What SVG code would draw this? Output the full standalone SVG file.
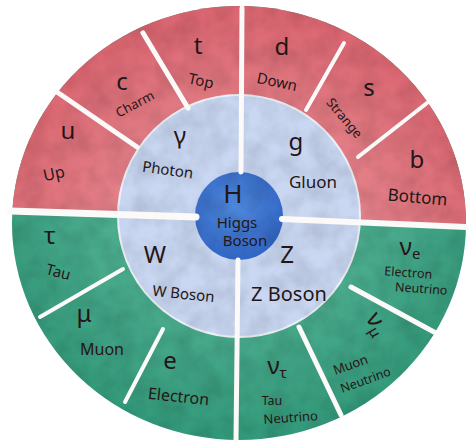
<svg xmlns="http://www.w3.org/2000/svg" width="468" height="445" viewBox="0 0 468 445">
<defs>
<style>
.t{font-family:"Noto Sans","DejaVu Sans",sans-serif;fill:#241616;text-anchor:middle}
.sym{font-size:24px}
.nm{font-size:15px}
.sm{font-size:12.5px}
.gap{stroke:#fbfaf8;stroke-linecap:round;fill:none}
</style>
<filter id="wc" x="0" y="0" width="100%" height="100%">
<feTurbulence type="fractalNoise" baseFrequency="0.045" numOctaves="3" seed="7" result="n"/>
<feColorMatrix in="n" type="matrix" values="0 0 0 0 0  0 0 0 0 0  0 0 0 0 0  0 0 0 0.4 -0.12" result="a"/>
<feComposite in="a" in2="SourceGraphic" operator="in" result="t"/>
<feMerge><feMergeNode in="SourceGraphic"/><feMergeNode in="t"/></feMerge>
</filter>
<clipPath id="topHalf"><polygon points="0,0 468,0 468,227 0,211"/></clipPath>
<radialGradient id="gRed" cx="0.5" cy="0.6" r="0.6">
<stop offset="0.5" stop-color="#e4828a"/><stop offset="1" stop-color="#da6570"/>
</radialGradient>
<radialGradient id="gGreen" cx="0.5" cy="0.4" r="0.6">
<stop offset="0.5" stop-color="#4dad8f"/><stop offset="1" stop-color="#34997a"/>
</radialGradient>
<radialGradient id="gBlue" cx="0.45" cy="0.4" r="0.6">
<stop offset="0" stop-color="#5089dd"/><stop offset="1" stop-color="#3468c6"/>
</radialGradient>
</defs>
<rect width="468" height="445" fill="#ffffff"/>
<g id="background" filter="url(#wc)">
<ellipse cx="239" cy="223" rx="227" ry="217" fill="url(#gGreen)"/>
<ellipse cx="239" cy="223" rx="227" ry="217" fill="url(#gRed)" clip-path="url(#topHalf)"/>
<circle cx="239" cy="216" r="121" fill="#c9d7f2" stroke="#eef1f8" stroke-width="2"/>
<circle cx="239" cy="216" r="44" fill="url(#gBlue)"/>
</g>
<g id="connectors">
<path class="gap" stroke-width="7" d="M10,211 L196,217"/>
<path class="gap" stroke-width="6" d="M282,219 L466,227"/>
<path class="gap" stroke-width="5" d="M242,8 L241,172"/>
<path class="gap" stroke-width="5" d="M238,260 L236,440"/>
<path class="gap" stroke-width="5" d="M137,147 L57,92"/>
<path class="gap" stroke-width="5" d="M188,108 L143,33"/>
<path class="gap" stroke-width="4" d="M306,110 L344,43"/>
<path class="gap" stroke-width="4" d="M358,157 L427,103"/>
<path class="gap" stroke-width="4" d="M123,269 L40,317"/>
<path class="gap" stroke-width="4" d="M163,329 L125,402"/>
<path class="gap" stroke-width="5" d="M299,327 L341,415"/>
<path class="gap" stroke-width="5" d="M351,287 L434,332"/>
</g>
<g id="higgs"><text class="t" x="233" y="203" style="font-size:26px">H</text><text class="t nm" x="237" y="228">Higgs</text><text class="t nm" x="245" y="246">Boson</text></g>
<g id="photon"><text class="t sym" x="180" y="144">γ</text><text class="t nm" x="167" y="175" transform="rotate(8 167 175)">Photon</text></g>
<g id="gluon"><text class="t sym" x="296" y="150">g</text><text class="t" x="313" y="188" style="font-size:17px">Gluon</text></g>
<g id="wboson"><text class="t sym" x="155" y="263">W</text><text class="t nm" x="183" y="299" transform="rotate(6 183 299)">W Boson</text></g>
<g id="zboson"><text class="t sym" x="287" y="263">Z</text><text class="t" x="289" y="301" style="font-size:20px">Z Boson</text></g>
<g id="up"><text class="t sym" x="68" y="139">u</text><text class="t" x="55" y="179" style="font-size:16px" transform="rotate(-12 55 179)">Up</text></g>
<g id="charm"><text class="t sym" x="122" y="90">c</text><text class="t" x="137" y="108" style="font-size:13px" transform="rotate(-28 137 108)">Charm</text></g>
<g id="top"><text class="t sym" x="198" y="54">t</text><text class="t nm" x="200" y="86" transform="rotate(12 200 86)">Top</text></g>
<g id="down"><text class="t sym" x="282" y="55">d</text><text class="t nm" x="276" y="87" transform="rotate(12 276 87)">Down</text></g>
<g id="strange"><text class="t sym" x="369" y="96">s</text><text class="t" x="341" y="121" style="font-size:13px" transform="rotate(50 341 121)">Strange</text></g>
<g id="bottom"><text class="t sym" x="417" y="168">b</text><text class="t" x="417" y="203" style="font-size:17px" transform="rotate(5 417 203)">Bottom</text></g>
<g id="tau"><text class="t sym" x="50" y="244">τ</text><text class="t nm" x="57" y="277" transform="rotate(15 57 277)">Tau</text></g>
<g id="muon"><text class="t sym" x="84" y="322">μ</text><text class="t" x="102" y="355" style="font-size:16px">Muon</text></g>
<g id="electron"><text class="t sym" x="170" y="369">e</text><text class="t" x="178" y="402" style="font-size:16px" transform="rotate(6 178 402)">Electron</text></g>
<g id="tauneutrino"><text class="t sym" x="277" y="374">ν<tspan style="font-size:15px" dy="4">τ</tspan></text><text class="t sm" x="272" y="405">Tau</text><text class="t" x="291" y="422" style="font-size:13px" transform="rotate(-4 291 422)">Neutrino</text></g>
<g id="muonneutrino"><text class="t sym" x="375" y="330" transform="rotate(60 375 325)">ν<tspan style="font-size:15px" dy="4">μ</tspan></text><text class="t" x="352" y="369" style="font-size:13px" transform="rotate(-20 352 369)">Muon</text><text class="t sm" x="367" y="384" transform="rotate(-20 367 384)">Neutrino</text></g>
<g id="electronneutrino"><text class="t sym" x="410" y="255">ν<tspan style="font-size:15px" dy="4">e</tspan></text><text class="t sm" x="408" y="277" transform="rotate(4 408 277)">Electron</text><text class="t sm" x="421" y="293" transform="rotate(4 421 293)">Neutrino</text></g>
</svg>
